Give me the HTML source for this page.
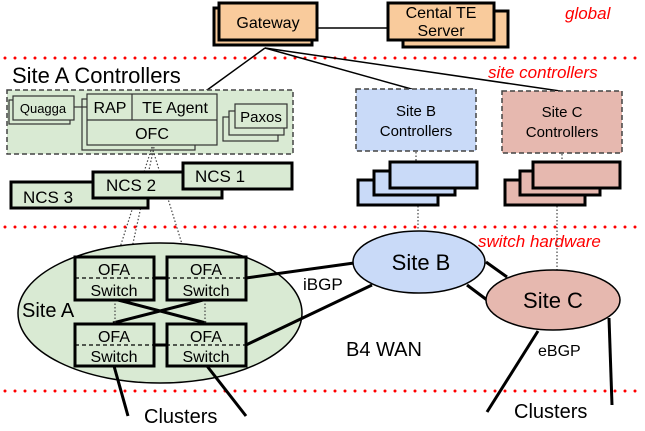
<!DOCTYPE html>
<html><head><meta charset="utf-8"><style>
html,body{margin:0;padding:0;background:#fff;}
svg{display:block;font-family:"Liberation Sans",Arial,sans-serif;}
</style></head><body>
<svg width="645" height="431" viewBox="0 0 645 431" xmlns="http://www.w3.org/2000/svg">
<g stroke="#f00" stroke-width="3" stroke-dasharray="0 10" stroke-linecap="round">
<line x1="5" y1="58" x2="640" y2="58"/>
<line x1="5" y1="227" x2="640" y2="227"/>
<line x1="5" y1="391" x2="640" y2="391"/>
</g>
<g fill="#f00" font-style="italic" font-size="17">
<text x="565" y="19">global</text>
<text x="488" y="78">site controllers</text>
<text x="478" y="247">switch hardware</text>
</g>
<g stroke="#000" stroke-width="1.5" fill="none">
<line x1="317" y1="28" x2="388" y2="28"/>
<line x1="265" y1="48" x2="203" y2="93"/>
<line x1="265" y1="48" x2="415" y2="90"/>
<line x1="265" y1="48" x2="560" y2="91"/>
</g>
<g stroke="#000" stroke-width="3" fill="#f9cb9c">
<rect x="214" y="8" width="98" height="37"/>
<rect x="219" y="3" width="98" height="37"/>
<rect x="403" y="11" width="105" height="36"/>
<rect x="388" y="3" width="106" height="37"/>
</g>
<text x="268" y="28" font-size="16" text-anchor="middle">Gateway</text>
<text x="441" y="18" font-size="16" text-anchor="middle">Cental TE</text>
<text x="441" y="36" font-size="16" text-anchor="middle">Server</text>
<text x="12" y="83" font-size="22">Site A Controllers</text>
<rect x="7" y="90" width="286" height="64" fill="#d9ead3" stroke="#444" stroke-width="1.5" stroke-dasharray="5 3"/>
<g stroke="#333" stroke-width="1.2" fill="#d9ead3">
<rect x="9" y="100" width="61" height="24"/>
<rect x="13" y="96" width="61" height="24"/>
<rect x="82" y="99" width="113" height="51"/>
<rect x="87" y="94" width="130" height="51"/>
<line x1="87" y1="120" x2="217" y2="120"/>
<line x1="132" y1="94" x2="132" y2="120"/>
<line x1="74" y1="107" x2="87" y2="107"/>
<rect x="223" y="117" width="55" height="24"/>
<rect x="229" y="111" width="55" height="24"/>
<rect x="235" y="104" width="52" height="24"/>
</g>
<text x="43" y="113" font-size="13" text-anchor="middle">Quagga</text>
<text x="110" y="113" font-size="16" text-anchor="middle">RAP</text>
<text x="175" y="113" font-size="16" text-anchor="middle">TE Agent</text>
<text x="152" y="139" font-size="16" text-anchor="middle">OFC</text>
<text x="261" y="122" font-size="15" text-anchor="middle">Paxos</text>
<g stroke="#444" stroke-width="1.2" stroke-dasharray="1.5 2" fill="none">
<line x1="152" y1="147" x2="117" y2="257"/>
<line x1="154" y1="147" x2="130" y2="257"/>
<line x1="152" y1="147" x2="186" y2="257"/>
<line x1="416" y1="152" x2="416" y2="162"/>
<line x1="418" y1="206" x2="418" y2="231"/>
<line x1="562" y1="154" x2="562" y2="162"/>
<line x1="557" y1="206" x2="557" y2="270"/>
</g>
<g stroke="#000" stroke-width="3" fill="#d9ead3">
<rect x="11" y="182" width="137" height="26"/>
<rect x="93" y="172" width="129" height="26"/>
<rect x="183" y="163" width="109" height="26"/>
</g>
<text x="48" y="203" font-size="17" text-anchor="middle">NCS 3</text>
<text x="131" y="191" font-size="17" text-anchor="middle">NCS 2</text>
<text x="220" y="182" font-size="17" text-anchor="middle">NCS 1</text>
<rect x="356" y="89" width="120" height="62" fill="#c9daf8" stroke="#444" stroke-width="1.5" stroke-dasharray="5 3"/>
<text x="416" y="116" font-size="15" text-anchor="middle">Site B</text>
<text x="416" y="136" font-size="15" text-anchor="middle">Controllers</text>
<g stroke="#000" stroke-width="3" fill="#c9daf8">
<rect x="358" y="180" width="80" height="25"/>
<rect x="374" y="171" width="81" height="24"/>
<rect x="390" y="162" width="87" height="26"/>
</g>
<rect x="502" y="91" width="120" height="62" fill="#e6b8af" stroke="#444" stroke-width="1.5" stroke-dasharray="5 3"/>
<text x="562" y="117" font-size="15" text-anchor="middle">Site C</text>
<text x="562" y="137" font-size="15" text-anchor="middle">Controllers</text>
<g stroke="#000" stroke-width="3" fill="#e6b8af">
<rect x="505" y="180" width="80" height="25"/>
<rect x="520" y="171" width="80" height="24"/>
<rect x="533" y="162" width="87" height="26"/>
</g>
<ellipse cx="160" cy="313" rx="142" ry="70" fill="#d9ead3" stroke="#000" stroke-width="1.5"/>
<text x="22" y="317" font-size="20">Site A</text>
<g stroke="#000" stroke-width="3" fill="none">
<line x1="154" y1="278" x2="167" y2="278"/>
<line x1="154" y1="345" x2="167" y2="345"/>
<line x1="118" y1="300" x2="206" y2="323"/>
<line x1="203" y1="300" x2="113" y2="323"/>
<line x1="246" y1="278" x2="354" y2="263"/>
<line x1="246" y1="345" x2="372" y2="285"/>
<line x1="486" y1="262" x2="507" y2="277"/>
<line x1="467" y1="285" x2="487" y2="300"/>
<line x1="538" y1="331" x2="487" y2="412"/>
<line x1="609" y1="318" x2="612" y2="405"/>
<line x1="114" y1="366" x2="128" y2="416"/>
<line x1="207" y1="366" x2="246" y2="416"/>
</g>
<g stroke="#444" stroke-width="1.2" stroke-dasharray="1.5 2">
<line x1="115" y1="300" x2="115" y2="324"/>
<line x1="205" y1="300" x2="205" y2="324"/>
</g>
<g stroke="#000" stroke-width="3" fill="#d9ead3">
<rect x="75" y="257" width="79" height="43"/>
<rect x="167" y="257" width="79" height="43"/>
<rect x="75" y="324" width="79" height="42"/>
<rect x="167" y="324" width="79" height="42"/>
</g>
<g stroke="#000" stroke-width="1.2" stroke-dasharray="4 3">
<line x1="75" y1="278" x2="246" y2="278"/>
<line x1="75" y1="345" x2="246" y2="345"/>
</g>
<g font-size="16" text-anchor="middle">
<text x="114" y="275">OFA</text><text x="114" y="296">Switch</text>
<text x="206" y="275">OFA</text><text x="206" y="296">Switch</text>
<text x="114" y="342">OFA</text><text x="114" y="362">Switch</text>
<text x="206" y="342">OFA</text><text x="206" y="362">Switch</text>
</g>
<text x="303" y="290" font-size="17">iBGP</text>
<ellipse cx="419" cy="262" rx="66" ry="31" fill="#c9daf8" stroke="#000" stroke-width="1.5"/>
<text x="421" y="270" font-size="22" text-anchor="middle">Site B</text>
<ellipse cx="553" cy="300" rx="67" ry="30" fill="#e6b8af" stroke="#000" stroke-width="1.5"/>
<text x="553" y="308" font-size="22" text-anchor="middle">Site C</text>
<text x="346" y="356" font-size="20">B4 WAN</text>
<text x="538" y="356" font-size="16">eBGP</text>
<text x="144" y="423" font-size="20">Clusters</text>
<text x="514" y="418" font-size="20">Clusters</text>
</svg>
</body></html>
